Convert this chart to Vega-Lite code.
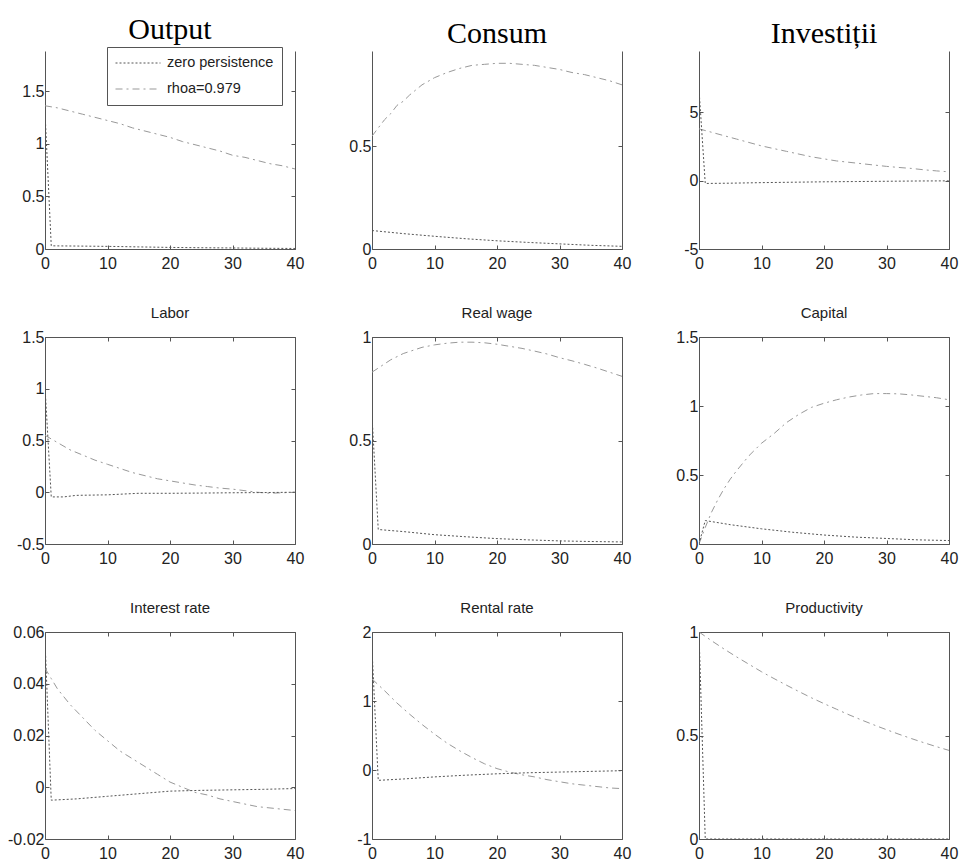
{
"$schema":"https://vega.github.io/schema/vega-lite/v6.json",
"background":"white",
"padding":{"left":7,"top":14,"right":3,"bottom":3},
"columns":3,
"spacing":{"row":88,"column":77},
"bounds":"flush",
"resolve":{"legend":{"color":"independent","strokeDash":"independent"},"scale":{"color":"independent","strokeDash":"independent"}},
"config":{
 "view":{"stroke":null},
 "font":"Liberation Sans",
 "axis":{"domainColor":"#555555","tickColor":"#555555","tickSize":-4,"labelFont":"Liberation Sans","labelFontSize":16,"labelColor":"#222222","grid":false,"labelFlush":false,"labelOverlap":false,"format":"~r","labelExpr":"replace(datum.label,'\u2212','-')"},
 "axisBottom":{"labelPadding":10},
 "axisLeft":{"labelPadding":5},
 "title":{"font":"Liberation Sans","fontSize":15,"fontWeight":"normal","color":"#222222","offset":8,"frame":"group"},
 "line":{"strokeWidth":1}
},
"datasets":{
"Output":[
{"t":0,"s":"rhoa=0.979","v":1.36},{"t":2,"s":"rhoa=0.979","v":1.34},{"t":4,"s":"rhoa=0.979","v":1.31},{"t":6,"s":"rhoa=0.979","v":1.28},{"t":8,"s":"rhoa=0.979","v":1.25},{"t":10,"s":"rhoa=0.979","v":1.22},{"t":12,"s":"rhoa=0.979","v":1.19},{"t":14,"s":"rhoa=0.979","v":1.15},{"t":16,"s":"rhoa=0.979","v":1.12},{"t":18,"s":"rhoa=0.979","v":1.09},{"t":20,"s":"rhoa=0.979","v":1.06},{"t":22,"s":"rhoa=0.979","v":1.02},{"t":24,"s":"rhoa=0.979","v":0.99},{"t":26,"s":"rhoa=0.979","v":0.96},{"t":28,"s":"rhoa=0.979","v":0.93},{"t":30,"s":"rhoa=0.979","v":0.89},{"t":32,"s":"rhoa=0.979","v":0.87},{"t":34,"s":"rhoa=0.979","v":0.84},{"t":36,"s":"rhoa=0.979","v":0.81},{"t":38,"s":"rhoa=0.979","v":0.79},{"t":40,"s":"rhoa=0.979","v":0.76},
{"t":0,"s":"zero persistence","v":1.3},{"t":1,"s":"zero persistence","v":0.03},{"t":5,"s":"zero persistence","v":0.028},{"t":10,"s":"zero persistence","v":0.025},{"t":15,"s":"zero persistence","v":0.02},{"t":20,"s":"zero persistence","v":0.015},{"t":25,"s":"zero persistence","v":0.012},{"t":30,"s":"zero persistence","v":0.01},{"t":35,"s":"zero persistence","v":0.007},{"t":40,"s":"zero persistence","v":0.005}
],
"Consum":[
{"t":0,"s":"rhoa=0.979","v":0.55},{"t":1,"s":"rhoa=0.979","v":0.59},{"t":2,"s":"rhoa=0.979","v":0.63},{"t":3,"s":"rhoa=0.979","v":0.66},{"t":4,"s":"rhoa=0.979","v":0.7},{"t":5,"s":"rhoa=0.979","v":0.72},{"t":6,"s":"rhoa=0.979","v":0.75},{"t":8,"s":"rhoa=0.979","v":0.8},{"t":10,"s":"rhoa=0.979","v":0.835},{"t":12,"s":"rhoa=0.979","v":0.86},{"t":14,"s":"rhoa=0.979","v":0.88},{"t":16,"s":"rhoa=0.979","v":0.895},{"t":18,"s":"rhoa=0.979","v":0.9},{"t":20,"s":"rhoa=0.979","v":0.905},{"t":22,"s":"rhoa=0.979","v":0.905},{"t":24,"s":"rhoa=0.979","v":0.9},{"t":26,"s":"rhoa=0.979","v":0.895},{"t":28,"s":"rhoa=0.979","v":0.885},{"t":30,"s":"rhoa=0.979","v":0.875},{"t":32,"s":"rhoa=0.979","v":0.86},{"t":34,"s":"rhoa=0.979","v":0.85},{"t":36,"s":"rhoa=0.979","v":0.835},{"t":38,"s":"rhoa=0.979","v":0.82},{"t":40,"s":"rhoa=0.979","v":0.8},
{"t":0,"s":"zero persistence","v":0.09},{"t":5,"s":"zero persistence","v":0.075},{"t":10,"s":"zero persistence","v":0.062},{"t":15,"s":"zero persistence","v":0.05},{"t":20,"s":"zero persistence","v":0.04},{"t":25,"s":"zero persistence","v":0.032},{"t":30,"s":"zero persistence","v":0.025},{"t":35,"s":"zero persistence","v":0.018},{"t":40,"s":"zero persistence","v":0.013}
],
"Invest":[
{"t":0,"s":"rhoa=0.979","v":3.8},{"t":2,"s":"rhoa=0.979","v":3.55},{"t":4,"s":"rhoa=0.979","v":3.3},{"t":6,"s":"rhoa=0.979","v":3.05},{"t":8,"s":"rhoa=0.979","v":2.8},{"t":10,"s":"rhoa=0.979","v":2.55},{"t":12,"s":"rhoa=0.979","v":2.35},{"t":14,"s":"rhoa=0.979","v":2.15},{"t":16,"s":"rhoa=0.979","v":1.95},{"t":18,"s":"rhoa=0.979","v":1.75},{"t":20,"s":"rhoa=0.979","v":1.6},{"t":22,"s":"rhoa=0.979","v":1.45},{"t":24,"s":"rhoa=0.979","v":1.35},{"t":26,"s":"rhoa=0.979","v":1.25},{"t":28,"s":"rhoa=0.979","v":1.15},{"t":30,"s":"rhoa=0.979","v":1.05},{"t":32,"s":"rhoa=0.979","v":0.97},{"t":34,"s":"rhoa=0.979","v":0.9},{"t":36,"s":"rhoa=0.979","v":0.8},{"t":38,"s":"rhoa=0.979","v":0.72},{"t":40,"s":"rhoa=0.979","v":0.65},
{"t":0,"s":"zero persistence","v":6.7},{"t":1,"s":"zero persistence","v":-0.2},{"t":5,"s":"zero persistence","v":-0.18},{"t":10,"s":"zero persistence","v":-0.14},{"t":15,"s":"zero persistence","v":-0.11},{"t":20,"s":"zero persistence","v":-0.08},{"t":25,"s":"zero persistence","v":-0.06},{"t":30,"s":"zero persistence","v":-0.04},{"t":35,"s":"zero persistence","v":-0.02},{"t":40,"s":"zero persistence","v":-0.01}
],
"Labor":[
{"t":0,"s":"rhoa=0.979","v":0.55},{"t":2,"s":"rhoa=0.979","v":0.48},{"t":4,"s":"rhoa=0.979","v":0.41},{"t":6,"s":"rhoa=0.979","v":0.36},{"t":8,"s":"rhoa=0.979","v":0.31},{"t":10,"s":"rhoa=0.979","v":0.27},{"t":12,"s":"rhoa=0.979","v":0.23},{"t":14,"s":"rhoa=0.979","v":0.19},{"t":16,"s":"rhoa=0.979","v":0.16},{"t":18,"s":"rhoa=0.979","v":0.13},{"t":20,"s":"rhoa=0.979","v":0.11},{"t":22,"s":"rhoa=0.979","v":0.09},{"t":24,"s":"rhoa=0.979","v":0.07},{"t":26,"s":"rhoa=0.979","v":0.055},{"t":28,"s":"rhoa=0.979","v":0.04},{"t":30,"s":"rhoa=0.979","v":0.03},{"t":32,"s":"rhoa=0.979","v":0.015},{"t":34,"s":"rhoa=0.979","v":0.0},{"t":36,"s":"rhoa=0.979","v":-0.01},{"t":38,"s":"rhoa=0.979","v":-0.005},{"t":40,"s":"rhoa=0.979","v":0.0},
{"t":0,"s":"zero persistence","v":1.02},{"t":1,"s":"zero persistence","v":-0.045},{"t":3,"s":"zero persistence","v":-0.045},{"t":5,"s":"zero persistence","v":-0.03},{"t":10,"s":"zero persistence","v":-0.025},{"t":15,"s":"zero persistence","v":-0.01},{"t":20,"s":"zero persistence","v":-0.01},{"t":25,"s":"zero persistence","v":-0.008},{"t":30,"s":"zero persistence","v":-0.005},{"t":35,"s":"zero persistence","v":-0.003},{"t":40,"s":"zero persistence","v":0.0}
],
"Wage":[
{"t":0,"s":"rhoa=0.979","v":0.83},{"t":1,"s":"rhoa=0.979","v":0.85},{"t":2,"s":"rhoa=0.979","v":0.87},{"t":3,"s":"rhoa=0.979","v":0.89},{"t":4,"s":"rhoa=0.979","v":0.905},{"t":5,"s":"rhoa=0.979","v":0.92},{"t":6,"s":"rhoa=0.979","v":0.93},{"t":8,"s":"rhoa=0.979","v":0.95},{"t":10,"s":"rhoa=0.979","v":0.962},{"t":12,"s":"rhoa=0.979","v":0.97},{"t":14,"s":"rhoa=0.979","v":0.975},{"t":16,"s":"rhoa=0.979","v":0.975},{"t":18,"s":"rhoa=0.979","v":0.972},{"t":20,"s":"rhoa=0.979","v":0.965},{"t":22,"s":"rhoa=0.979","v":0.955},{"t":24,"s":"rhoa=0.979","v":0.945},{"t":26,"s":"rhoa=0.979","v":0.932},{"t":28,"s":"rhoa=0.979","v":0.918},{"t":30,"s":"rhoa=0.979","v":0.9},{"t":32,"s":"rhoa=0.979","v":0.885},{"t":34,"s":"rhoa=0.979","v":0.868},{"t":36,"s":"rhoa=0.979","v":0.85},{"t":38,"s":"rhoa=0.979","v":0.83},{"t":40,"s":"rhoa=0.979","v":0.81},
{"t":0,"s":"zero persistence","v":0.62},{"t":1,"s":"zero persistence","v":0.07},{"t":5,"s":"zero persistence","v":0.06},{"t":10,"s":"zero persistence","v":0.045},{"t":15,"s":"zero persistence","v":0.035},{"t":20,"s":"zero persistence","v":0.026},{"t":25,"s":"zero persistence","v":0.02},{"t":30,"s":"zero persistence","v":0.015},{"t":35,"s":"zero persistence","v":0.012},{"t":40,"s":"zero persistence","v":0.01}
],
"Capital":[
{"t":0,"s":"rhoa=0.979","v":0.0},{"t":1,"s":"rhoa=0.979","v":0.12},{"t":2,"s":"rhoa=0.979","v":0.23},{"t":3,"s":"rhoa=0.979","v":0.32},{"t":4,"s":"rhoa=0.979","v":0.4},{"t":5,"s":"rhoa=0.979","v":0.47},{"t":6,"s":"rhoa=0.979","v":0.53},{"t":8,"s":"rhoa=0.979","v":0.64},{"t":10,"s":"rhoa=0.979","v":0.73},{"t":12,"s":"rhoa=0.979","v":0.8},{"t":14,"s":"rhoa=0.979","v":0.88},{"t":16,"s":"rhoa=0.979","v":0.94},{"t":18,"s":"rhoa=0.979","v":0.99},{"t":20,"s":"rhoa=0.979","v":1.02},{"t":22,"s":"rhoa=0.979","v":1.045},{"t":24,"s":"rhoa=0.979","v":1.065},{"t":26,"s":"rhoa=0.979","v":1.08},{"t":28,"s":"rhoa=0.979","v":1.09},{"t":30,"s":"rhoa=0.979","v":1.09},{"t":32,"s":"rhoa=0.979","v":1.088},{"t":34,"s":"rhoa=0.979","v":1.08},{"t":36,"s":"rhoa=0.979","v":1.07},{"t":38,"s":"rhoa=0.979","v":1.06},{"t":40,"s":"rhoa=0.979","v":1.045},
{"t":0,"s":"zero persistence","v":0.0},{"t":1,"s":"zero persistence","v":0.17},{"t":5,"s":"zero persistence","v":0.14},{"t":10,"s":"zero persistence","v":0.11},{"t":15,"s":"zero persistence","v":0.085},{"t":20,"s":"zero persistence","v":0.065},{"t":25,"s":"zero persistence","v":0.05},{"t":30,"s":"zero persistence","v":0.04},{"t":35,"s":"zero persistence","v":0.03},{"t":40,"s":"zero persistence","v":0.025}
],
"Interest":[
{"t":0,"s":"rhoa=0.979","v":0.046},{"t":1,"s":"rhoa=0.979","v":0.042},{"t":2,"s":"rhoa=0.979","v":0.038},{"t":3,"s":"rhoa=0.979","v":0.035},{"t":4,"s":"rhoa=0.979","v":0.032},{"t":6,"s":"rhoa=0.979","v":0.027},{"t":8,"s":"rhoa=0.979","v":0.022},{"t":10,"s":"rhoa=0.979","v":0.018},{"t":12,"s":"rhoa=0.979","v":0.014},{"t":14,"s":"rhoa=0.979","v":0.011},{"t":16,"s":"rhoa=0.979","v":0.008},{"t":18,"s":"rhoa=0.979","v":0.005},{"t":20,"s":"rhoa=0.979","v":0.002},{"t":22,"s":"rhoa=0.979","v":0.0},{"t":24,"s":"rhoa=0.979","v":-0.002},{"t":26,"s":"rhoa=0.979","v":-0.003},{"t":28,"s":"rhoa=0.979","v":-0.0045},{"t":30,"s":"rhoa=0.979","v":-0.0055},{"t":32,"s":"rhoa=0.979","v":-0.0065},{"t":34,"s":"rhoa=0.979","v":-0.0075},{"t":36,"s":"rhoa=0.979","v":-0.008},{"t":38,"s":"rhoa=0.979","v":-0.0085},{"t":40,"s":"rhoa=0.979","v":-0.009},
{"t":0,"s":"zero persistence","v":0.057},{"t":1,"s":"zero persistence","v":-0.005},{"t":5,"s":"zero persistence","v":-0.0045},{"t":10,"s":"zero persistence","v":-0.0035},{"t":15,"s":"zero persistence","v":-0.0025},{"t":20,"s":"zero persistence","v":-0.0015},{"t":25,"s":"zero persistence","v":-0.0012},{"t":30,"s":"zero persistence","v":-0.001},{"t":35,"s":"zero persistence","v":-0.0008},{"t":40,"s":"zero persistence","v":-0.0005}
],
"Rental":[
{"t":0,"s":"rhoa=0.979","v":1.32},{"t":2,"s":"rhoa=0.979","v":1.15},{"t":4,"s":"rhoa=0.979","v":0.97},{"t":6,"s":"rhoa=0.979","v":0.81},{"t":8,"s":"rhoa=0.979","v":0.66},{"t":10,"s":"rhoa=0.979","v":0.52},{"t":12,"s":"rhoa=0.979","v":0.39},{"t":14,"s":"rhoa=0.979","v":0.28},{"t":16,"s":"rhoa=0.979","v":0.18},{"t":18,"s":"rhoa=0.979","v":0.09},{"t":20,"s":"rhoa=0.979","v":0.02},{"t":22,"s":"rhoa=0.979","v":-0.03},{"t":24,"s":"rhoa=0.979","v":-0.07},{"t":26,"s":"rhoa=0.979","v":-0.1},{"t":28,"s":"rhoa=0.979","v":-0.14},{"t":30,"s":"rhoa=0.979","v":-0.17},{"t":32,"s":"rhoa=0.979","v":-0.2},{"t":34,"s":"rhoa=0.979","v":-0.22},{"t":36,"s":"rhoa=0.979","v":-0.24},{"t":38,"s":"rhoa=0.979","v":-0.26},{"t":40,"s":"rhoa=0.979","v":-0.27},
{"t":0,"s":"zero persistence","v":1.75},{"t":1,"s":"zero persistence","v":-0.15},{"t":5,"s":"zero persistence","v":-0.13},{"t":10,"s":"zero persistence","v":-0.1},{"t":15,"s":"zero persistence","v":-0.075},{"t":20,"s":"zero persistence","v":-0.055},{"t":25,"s":"zero persistence","v":-0.04},{"t":30,"s":"zero persistence","v":-0.03},{"t":35,"s":"zero persistence","v":-0.02},{"t":40,"s":"zero persistence","v":-0.01}
],
"Prod":[
{"t":0,"s":"rhoa=0.979","v":1.0},{"t":2,"s":"rhoa=0.979","v":0.958},{"t":4,"s":"rhoa=0.979","v":0.918},{"t":6,"s":"rhoa=0.979","v":0.88},{"t":8,"s":"rhoa=0.979","v":0.844},{"t":10,"s":"rhoa=0.979","v":0.808},{"t":12,"s":"rhoa=0.979","v":0.775},{"t":14,"s":"rhoa=0.979","v":0.743},{"t":16,"s":"rhoa=0.979","v":0.712},{"t":18,"s":"rhoa=0.979","v":0.682},{"t":20,"s":"rhoa=0.979","v":0.654},{"t":22,"s":"rhoa=0.979","v":0.627},{"t":24,"s":"rhoa=0.979","v":0.6},{"t":26,"s":"rhoa=0.979","v":0.575},{"t":28,"s":"rhoa=0.979","v":0.551},{"t":30,"s":"rhoa=0.979","v":0.528},{"t":32,"s":"rhoa=0.979","v":0.506},{"t":34,"s":"rhoa=0.979","v":0.485},{"t":36,"s":"rhoa=0.979","v":0.465},{"t":38,"s":"rhoa=0.979","v":0.446},{"t":40,"s":"rhoa=0.979","v":0.428},
{"t":0,"s":"zero persistence","v":1.0},{"t":1,"s":"zero persistence","v":0.0},{"t":20,"s":"zero persistence","v":0.0},{"t":40,"s":"zero persistence","v":0.0}
]
},
"concat":[
{"title":{"text":"Output","font":"Liberation Serif","fontSize":30,"color":"#000000","offset":2},"width":250,"height":198,"data":{"name":"Output"},
 "layer":[
  {"mark":{"type":"line","clip":true},"encoding":{
   "x":{"field":"t","type":"quantitative","scale":{"domain":[0,40],"nice":false},"axis":{"title":null,"values":[0,10,20,30,40]}},
   "y":{"field":"v","type":"quantitative","scale":{"domain":[0,1.88],"nice":false,"zero":false},"axis":{"title":null,"values":[0,0.5,1,1.5]}},
   "color":{"field":"s","type":"nominal","scale":{"domain":["zero persistence","rhoa=0.979"],"range":["#555555","#999999"]},"legend":{"title":null,"orient":"none","legendX":62,"legendY":-4,"strokeColor":"#555555","fillColor":"white","padding":8,"rowPadding":10,"clipHeight":16,"symbolType":"stroke","symbolSize":2025,"symbolStrokeWidth":1,"labelFont":"Liberation Sans","labelFontSize":14.5,"labelColor":"#222222","labelOffset":6}},
   "strokeDash":{"field":"s","type":"nominal","scale":{"domain":["zero persistence","rhoa=0.979"],"range":[[2,2],[7,4,2,4]]},"legend":{"title":null,"orient":"none","legendX":62,"legendY":-4,"strokeColor":"#555555","fillColor":"white","padding":8,"rowPadding":10,"clipHeight":16,"symbolType":"stroke","symbolSize":2025,"symbolStrokeWidth":1,"labelFont":"Liberation Sans","labelFontSize":14.5,"labelColor":"#222222","labelOffset":6}}}},
  {"mark":{"type":"line","opacity":0},"encoding":{
   "x":{"field":"t","type":"quantitative","axis":null},
   "y":{"field":"v","type":"quantitative","axis":{"title":null,"orient":"right","values":[0,0.5,1,1.5],"labels":false}},
   "detail":{"field":"s"}}}
 ],
 "resolve":{"axis":{"x":"independent","y":"independent"}}},
{"title":{"text":"Consum","font":"Liberation Serif","fontSize":30,"color":"#000000","offset":2},"width":250,"height":198,"data":{"name":"Consum"},
 "layer":[
  {"mark":{"type":"line","clip":true},"encoding":{
   "x":{"field":"t","type":"quantitative","scale":{"domain":[0,40],"nice":false},"axis":{"title":null,"values":[0,10,20,30,40]}},
   "y":{"field":"v","type":"quantitative","scale":{"domain":[0,0.965],"nice":false,"zero":false},"axis":{"title":null,"values":[0,0.5]}},
   "color":{"field":"s","type":"nominal","scale":{"domain":["zero persistence","rhoa=0.979"],"range":["#555555","#999999"]},"legend":null},
   "strokeDash":{"field":"s","type":"nominal","scale":{"domain":["zero persistence","rhoa=0.979"],"range":[[2,2],[7,4,2,4]]},"legend":null}}},
  {"mark":{"type":"line","opacity":0},"encoding":{
   "x":{"field":"t","type":"quantitative","axis":null},
   "y":{"field":"v","type":"quantitative","axis":{"title":null,"orient":"right","values":[0,0.5],"labels":false}},
   "detail":{"field":"s"}}}
 ],
 "resolve":{"axis":{"x":"independent","y":"independent"}}},
{"title":{"text":"Investiții","font":"Liberation Serif","fontSize":30,"color":"#000000","offset":2},"width":250,"height":198,"data":{"name":"Invest"},
 "layer":[
  {"mark":{"type":"line","clip":true},"encoding":{
   "x":{"field":"t","type":"quantitative","scale":{"domain":[0,40],"nice":false},"axis":{"title":null,"values":[0,10,20,30,40]}},
   "y":{"field":"v","type":"quantitative","scale":{"domain":[-5,9.5],"nice":false,"zero":false},"axis":{"title":null,"values":[-5,0,5]}},
   "color":{"field":"s","type":"nominal","scale":{"domain":["zero persistence","rhoa=0.979"],"range":["#555555","#999999"]},"legend":null},
   "strokeDash":{"field":"s","type":"nominal","scale":{"domain":["zero persistence","rhoa=0.979"],"range":[[2,2],[7,4,2,4]]},"legend":null}}},
  {"mark":{"type":"line","opacity":0},"encoding":{
   "x":{"field":"t","type":"quantitative","axis":null},
   "y":{"field":"v","type":"quantitative","axis":{"title":null,"orient":"right","values":[-5,0,5],"labels":false}},
   "detail":{"field":"s"}}}
 ],
 "resolve":{"axis":{"x":"independent","y":"independent"}}},
{"title":"Labor","width":250,"height":207,"data":{"name":"Labor"},
 "layer":[
  {"mark":{"type":"line","clip":true},"encoding":{
   "x":{"field":"t","type":"quantitative","scale":{"domain":[0,40],"nice":false},"axis":{"title":null,"values":[0,10,20,30,40]}},
   "y":{"field":"v","type":"quantitative","scale":{"domain":[-0.5,1.5],"nice":false,"zero":false},"axis":{"title":null,"values":[-0.5,0,0.5,1,1.5]}},
   "color":{"field":"s","type":"nominal","scale":{"domain":["zero persistence","rhoa=0.979"],"range":["#555555","#999999"]},"legend":null},
   "strokeDash":{"field":"s","type":"nominal","scale":{"domain":["zero persistence","rhoa=0.979"],"range":[[2,2],[7,4,2,4]]},"legend":null}}},
  {"mark":{"type":"line","opacity":0},"encoding":{
   "x":{"field":"t","type":"quantitative","axis":{"title":null,"orient":"top","values":[0,10,20,30,40],"labels":false}},
   "y":{"field":"v","type":"quantitative","axis":{"title":null,"orient":"right","values":[-0.5,0,0.5,1,1.5],"labels":false}},
   "detail":{"field":"s"}}}
 ],
 "resolve":{"axis":{"x":"independent","y":"independent"}}},
{"title":"Real wage","width":250,"height":207,"data":{"name":"Wage"},
 "layer":[
  {"mark":{"type":"line","clip":true},"encoding":{
   "x":{"field":"t","type":"quantitative","scale":{"domain":[0,40],"nice":false},"axis":{"title":null,"values":[0,10,20,30,40]}},
   "y":{"field":"v","type":"quantitative","scale":{"domain":[0,1],"nice":false,"zero":false},"axis":{"title":null,"values":[0,0.5,1]}},
   "color":{"field":"s","type":"nominal","scale":{"domain":["zero persistence","rhoa=0.979"],"range":["#555555","#999999"]},"legend":null},
   "strokeDash":{"field":"s","type":"nominal","scale":{"domain":["zero persistence","rhoa=0.979"],"range":[[2,2],[7,4,2,4]]},"legend":null}}},
  {"mark":{"type":"line","opacity":0},"encoding":{
   "x":{"field":"t","type":"quantitative","axis":{"title":null,"orient":"top","values":[0,10,20,30,40],"labels":false}},
   "y":{"field":"v","type":"quantitative","axis":{"title":null,"orient":"right","values":[0,0.5,1],"labels":false}},
   "detail":{"field":"s"}}}
 ],
 "resolve":{"axis":{"x":"independent","y":"independent"}}},
{"title":"Capital","width":250,"height":207,"data":{"name":"Capital"},
 "layer":[
  {"mark":{"type":"line","clip":true},"encoding":{
   "x":{"field":"t","type":"quantitative","scale":{"domain":[0,40],"nice":false},"axis":{"title":null,"values":[0,10,20,30,40]}},
   "y":{"field":"v","type":"quantitative","scale":{"domain":[0,1.5],"nice":false,"zero":false},"axis":{"title":null,"values":[0,0.5,1,1.5]}},
   "color":{"field":"s","type":"nominal","scale":{"domain":["zero persistence","rhoa=0.979"],"range":["#555555","#999999"]},"legend":null},
   "strokeDash":{"field":"s","type":"nominal","scale":{"domain":["zero persistence","rhoa=0.979"],"range":[[2,2],[7,4,2,4]]},"legend":null}}},
  {"mark":{"type":"line","opacity":0},"encoding":{
   "x":{"field":"t","type":"quantitative","axis":{"title":null,"orient":"top","values":[0,10,20,30,40],"labels":false}},
   "y":{"field":"v","type":"quantitative","axis":{"title":null,"orient":"right","values":[0,0.5,1,1.5],"labels":false}},
   "detail":{"field":"s"}}}
 ],
 "resolve":{"axis":{"x":"independent","y":"independent"}}},
{"title":"Interest rate","width":250,"height":207,"data":{"name":"Interest"},
 "layer":[
  {"mark":{"type":"line","clip":true},"encoding":{
   "x":{"field":"t","type":"quantitative","scale":{"domain":[0,40],"nice":false},"axis":{"title":null,"values":[0,10,20,30,40]}},
   "y":{"field":"v","type":"quantitative","scale":{"domain":[-0.02,0.06],"nice":false,"zero":false},"axis":{"title":null,"values":[-0.02,0,0.02,0.04,0.06]}},
   "color":{"field":"s","type":"nominal","scale":{"domain":["zero persistence","rhoa=0.979"],"range":["#555555","#999999"]},"legend":null},
   "strokeDash":{"field":"s","type":"nominal","scale":{"domain":["zero persistence","rhoa=0.979"],"range":[[2,2],[7,4,2,4]]},"legend":null}}},
  {"mark":{"type":"line","opacity":0},"encoding":{
   "x":{"field":"t","type":"quantitative","axis":{"title":null,"orient":"top","values":[0,10,20,30,40],"labels":false}},
   "y":{"field":"v","type":"quantitative","axis":{"title":null,"orient":"right","values":[-0.02,0,0.02,0.04,0.06],"labels":false}},
   "detail":{"field":"s"}}}
 ],
 "resolve":{"axis":{"x":"independent","y":"independent"}}},
{"title":"Rental rate","width":250,"height":207,"data":{"name":"Rental"},
 "layer":[
  {"mark":{"type":"line","clip":true},"encoding":{
   "x":{"field":"t","type":"quantitative","scale":{"domain":[0,40],"nice":false},"axis":{"title":null,"values":[0,10,20,30,40]}},
   "y":{"field":"v","type":"quantitative","scale":{"domain":[-1,2],"nice":false,"zero":false},"axis":{"title":null,"values":[-1,0,1,2]}},
   "color":{"field":"s","type":"nominal","scale":{"domain":["zero persistence","rhoa=0.979"],"range":["#555555","#999999"]},"legend":null},
   "strokeDash":{"field":"s","type":"nominal","scale":{"domain":["zero persistence","rhoa=0.979"],"range":[[2,2],[7,4,2,4]]},"legend":null}}},
  {"mark":{"type":"line","opacity":0},"encoding":{
   "x":{"field":"t","type":"quantitative","axis":{"title":null,"orient":"top","values":[0,10,20,30,40],"labels":false}},
   "y":{"field":"v","type":"quantitative","axis":{"title":null,"orient":"right","values":[-1,0,1,2],"labels":false}},
   "detail":{"field":"s"}}}
 ],
 "resolve":{"axis":{"x":"independent","y":"independent"}}},
{"title":"Productivity","width":250,"height":207,"data":{"name":"Prod"},
 "layer":[
  {"mark":{"type":"line","clip":true},"encoding":{
   "x":{"field":"t","type":"quantitative","scale":{"domain":[0,40],"nice":false},"axis":{"title":null,"values":[0,10,20,30,40]}},
   "y":{"field":"v","type":"quantitative","scale":{"domain":[0,1],"nice":false,"zero":false},"axis":{"title":null,"values":[0,0.5,1]}},
   "color":{"field":"s","type":"nominal","scale":{"domain":["zero persistence","rhoa=0.979"],"range":["#555555","#999999"]},"legend":null},
   "strokeDash":{"field":"s","type":"nominal","scale":{"domain":["zero persistence","rhoa=0.979"],"range":[[2,2],[7,4,2,4]]},"legend":null}}},
  {"mark":{"type":"line","opacity":0},"encoding":{
   "x":{"field":"t","type":"quantitative","axis":{"title":null,"orient":"top","values":[0,10,20,30,40],"labels":false}},
   "y":{"field":"v","type":"quantitative","axis":{"title":null,"orient":"right","values":[0,0.5,1],"labels":false}},
   "detail":{"field":"s"}}}
 ],
 "resolve":{"axis":{"x":"independent","y":"independent"}}}
]
}
